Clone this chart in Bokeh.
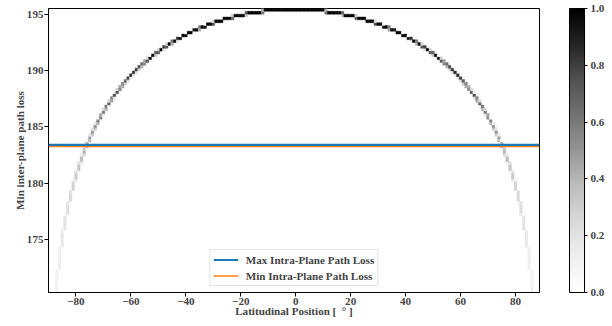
import numpy as np
from bokeh.plotting import figure
from bokeh.models import (ColumnDataSource, LinearColorMapper, ColorBar, FixedTicker,
                          PrintfTickFormatter, Legend, LegendItem)
from bokeh.transform import linear_cmap
from bokeh.embed import file_html
from bokeh.resources import INLINE

# ---------------- data ----------------
# distance (deg) of a histogram bin edge from the curve's peak
abs_lat = list(range(0, 90))
# min inter-plane path loss at those edges (curve is symmetric about its peak)
loss_at_abs_lat = [
    195.45, 195.45, 195.44, 195.44, 195.43, 195.42, 195.40, 195.39, 195.37, 195.34,
    195.32, 195.29, 195.26, 195.22, 195.19, 195.15, 195.11, 195.06, 195.01, 194.96,
    194.91, 194.85, 194.79, 194.73, 194.66, 194.60, 194.52, 194.45, 194.37, 194.29,
    194.20, 194.11, 194.02, 193.92, 193.82, 193.72, 193.61, 193.50, 193.38, 193.26,
    193.14, 193.01, 192.87, 192.73, 192.59, 192.44, 192.29, 192.13, 191.96, 191.79,
    191.61, 191.43, 191.24, 191.04, 190.83, 190.62, 190.40, 190.17, 189.93, 189.69,
    189.43, 189.16, 188.88, 188.59, 188.29, 187.97, 187.64, 187.29, 186.92, 186.54,
    186.13, 185.70, 185.25, 184.77, 184.26, 183.71, 183.12, 182.49, 181.81, 181.06,
    180.24, 179.34, 178.32, 177.17, 175.83, 174.26, 172.32, 169.83, 166.31, 160.29,
]
peak_lat = -0.5
lat_range = [-90.0, 88.75]
loss_range = [170.28, 195.53]
n_loss_bins = 100
max_intra_loss = 183.40
min_intra_loss = 183.25
x_ticks = [-80, -60, -40, -20, 0, 20, 40, 60, 80]
y_ticks = [175, 180, 185, 190, 195]
cbar_ticks = [0.0, 0.2, 0.4, 0.6, 0.8, 1.0]
legend_labels = ["Max Intra-Plane Path Loss", "Min Intra-Plane Path Loss"]

# ---------------- histogram (per latitude column, normalised) ----------------
offsets = [-a for a in reversed(abs_lat[1:])] + abs_lat
lat_edges = [peak_lat + o for o in offsets]
loss_edges = list(reversed(loss_at_abs_lat[1:])) + loss_at_abs_lat
y_edges = np.linspace(loss_range[0], loss_range[1], n_loss_bins + 1)

L, R, B, T, V = [], [], [], [], []
for i in range(len(lat_edges) - 1):
    a, b = lat_edges[i], lat_edges[i + 1]
    lo, hi = sorted([loss_edges[i], loss_edges[i + 1]])
    if hi - lo < 1e-9:
        mass = ((y_edges[:-1] <= lo) & (y_edges[1:] > lo)).astype(float)
    else:
        ov = np.minimum(hi, y_edges[1:]) - np.maximum(lo, y_edges[:-1])
        mass = np.clip(ov, 0, None) / (hi - lo)
    for j, m in enumerate(mass):
        if m > 0.002:
            L.append(a); R.append(b)
            B.append(y_edges[j]); T.append(y_edges[j + 1]); V.append(float(m))

src = ColumnDataSource(dict(left=L, right=R, bottom=B, top=T, value=V))

# matplotlib-like "Greys" colormap (white -> black)
anchors = ["#ffffff", "#f0f0f0", "#d9d9d9", "#bdbdbd", "#969696",
           "#737373", "#525252", "#252525", "#000000"]
av = np.array([int(c[1:3], 16) for c in anchors], dtype=float)
ap = np.linspace(0, 1, len(anchors))
palette = []
for t in np.linspace(0, 1, 256):
    g = int(round(np.interp(t, ap, av)))
    palette.append("#%02x%02x%02x" % (g, g, g))

FONT = "Liberation Serif"
FS = "11.1px"
mapper = LinearColorMapper(palette=palette, low=0.0, high=1.0)

p = figure(width=612, height=326, output_backend="svg", toolbar_location=None,
           x_range=(lat_range[0], lat_range[1]), y_range=(loss_range[0], loss_range[1]),
           min_border_left=48, min_border_right=73, min_border_top=8, min_border_bottom=34)
p.background_fill_color = "white"
p.border_fill_color = "white"
p.outline_line_color = "black"
p.outline_line_width = 1
p.xgrid.visible = False
p.ygrid.visible = False

cmap = linear_cmap("value", palette, 0.0, 1.0)
p.quad(left="left", right="right", bottom="bottom", top="top", source=src,
       fill_color=cmap, line_color=cmap, line_width=0.4)

r_max = p.line(x=lat_range, y=[max_intra_loss] * 2, line_color="#1f77b4", line_width=2.2)
r_min = p.line(x=lat_range, y=[min_intra_loss] * 2, line_color="#ff7f0e", line_width=1.3)

for ax in (p.xaxis[0], p.yaxis[0]):
    ax.major_label_text_font = FONT
    ax.major_label_text_font_style = "bold"
    ax.major_label_text_font_size = FS
    ax.axis_label_text_font = FONT
    ax.axis_label_text_font_style = "bold"
    ax.axis_label_text_font_size = FS
    ax.minor_tick_line_color = None
    ax.major_tick_in = 0
    ax.major_tick_out = 4
    ax.axis_line_color = "black"
    ax.major_tick_line_color = "black"
    ax.major_label_standoff = 1

p.xaxis.axis_label_standoff = -3
p.yaxis.axis_label_standoff = -2
p.xaxis.ticker = FixedTicker(ticks=x_ticks)
p.yaxis.ticker = FixedTicker(ticks=y_ticks)
p.xaxis.major_label_overrides = {t: (str(t).replace("-", "\u2212")) for t in x_ticks}
p.xaxis.axis_label = "Latitudinal Position [\u00a0\u00a0\u00b0\u00a0]"
p.yaxis.axis_label = "Min inter-plane path loss"

legend = Legend(items=[LegendItem(label=legend_labels[0], renderers=[r_max]),
                       LegendItem(label=legend_labels[1], renderers=[r_min])],
                location="bottom_center")
legend.label_text_font = FONT
legend.label_text_font_style = "bold"
legend.label_text_font_size = FS
legend.border_line_color = "#cccccc"
legend.background_fill_alpha = 0.85
legend.glyph_width = 25
legend.glyph_height = 13
legend.label_height = 13
legend.label_standoff = 8
legend.spacing = 3
legend.padding = 3
legend.margin = 6
p.add_layout(legend)

cb = ColorBar(color_mapper=mapper, ticker=FixedTicker(ticks=cbar_ticks),
              formatter=PrintfTickFormatter(format="%.1f"),
              width=15, height=284, margin=0, padding=0,
              location=(521, 0),
              bar_line_color="black", border_line_color=None,
              major_tick_in=0, major_tick_out=3, major_tick_line_color="black",
              major_label_text_font=FONT, major_label_text_font_style="bold",
              major_label_text_font_size=FS, label_standoff=3,
              background_fill_alpha=0)
p.add_layout(cb)

open("out.html", "w").write(file_html(p, INLINE))
